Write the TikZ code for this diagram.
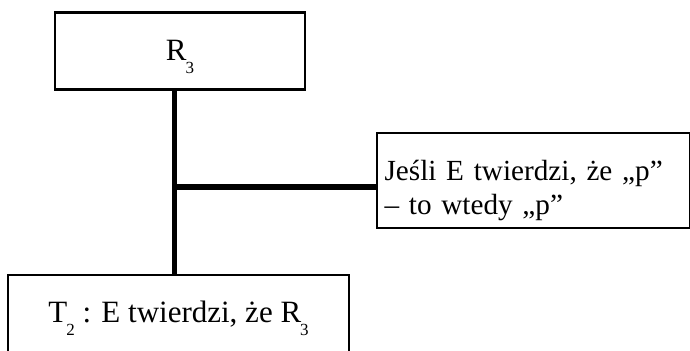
\documentclass[tikz,border=0pt]{standalone}
\usepackage{fontspec}
\setmainfont{Liberation Serif}
\usepackage{tikz}
\newcommand{\lowidx}[1]{\kern-0.5pt\raisebox{-6.5pt}{\fontsize{8.5}{8.5}\selectfont #1}}

\begin{document}
\begin{tikzpicture}[x=0.5pt,y=-0.5pt,
  box/.style={draw,line width=1.1pt,inner sep=0pt,font=\fontsize{15.5}{17}\selectfont},
  stem/.style={line width=2.8pt}]
\useasboundingbox (0,0) rectangle (690,350);
\clip (0,0) rectangle (690,350);
\node[box,minimum width=125pt,text height=23.75pt,text depth=14.75pt,anchor=base] (r3) at (180,60) {R\lowidx{3}};
\node[box,minimum width=170.5pt,text height=23.5pt,text depth=40pt,anchor=base] (t2) at (178.5,322) {T\lowidx{2} : E twierdzi, że R\lowidx{3}};
\node[box,font=\fontsize{14.6}{17}\selectfont,text width=148.75pt,inner xsep=4pt,align=left,text height=23.5pt,text depth=24pt,anchor=base west] (rule) at (375.5,180) {Jeśli E twierdzi, że „p”\\– to wtedy „p”};
\coordinate (fork) at (174.5,187);
\draw[stem] (fork |- r3.south) -- (fork |- t2.north);
\draw[stem] (fork) -- (fork -| rule.west);
\end{tikzpicture}
\end{document}
